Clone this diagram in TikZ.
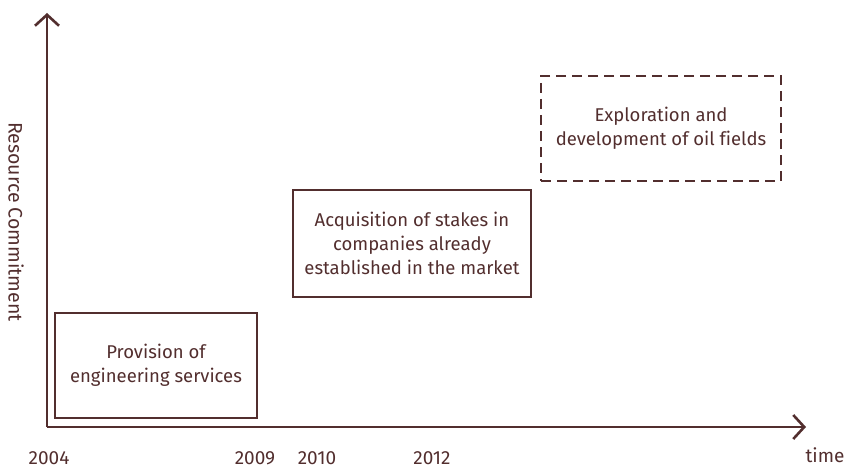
\documentclass[tikz,border=0pt]{standalone}
\usepackage{fontspec}
\setmainfont[Ligatures=NoCommon]{Fira Sans}
\usepackage{xcolor}
\usepackage{tikz}
\usetikzlibrary{arrows.meta, positioning}
\definecolor{AxisBrown}{RGB}{82,46,46}
\tikzset{
  phase/.style={
    rectangle, draw=AxisBrown, line width=2.4pt,
    align=center, text=AxisBrown,
    font=\fontsize{18.5}{24}\selectfont
  },
  axisarr/.style={-{Straight Barb[length=11pt, width=24pt, line width=2.6pt]},
    draw=AxisBrown, line width=2.8pt},
  yearlbl/.style={anchor=base, inner sep=0pt, text=AxisBrown, font=\fontsize{19}{22}\selectfont}
}
\begin{document}
\begin{tikzpicture}[x=1pt, y=-1pt]
  \useasboundingbox (0,0) rectangle (853,468);

  % Axes
  \coordinate (orig) at (47,427);
  \coordinate (ytip) at (47,13);
  \coordinate (xtip) at (806,427);
  \draw[axisarr] (orig) -- (ytip);
  \draw[axisarr] (orig) -- (xtip);

  % Phases of commitment
  \node[phase, minimum width=202pt, minimum height=105pt]
    (serv) at (156,365.5) {Provision of\\engineering services};
  \node[phase, minimum width=238pt, minimum height=107pt]
    (stake) at (412,243.5) {Acquisition of stakes in\\companies already\\established in the market};
  \node[phase, dashed, dash pattern=on 10pt off 6pt, minimum width=240pt, minimum height=105pt]
    (oil) at (661,128.5) {Exploration and\\development of oil fields};

  % Axis labels
  \node[yearlbl] (y04) at (49,464) {2004};
  \node[yearlbl] (y09) at (255,464) {2009};
  \node[yearlbl] (y10) at (317,464) {2010};
  \node[yearlbl] (y12) at (432,464) {2012};
  \node[yearlbl] (tlbl) at (825,462) {time};
  \node[text=AxisBrown, font=\fontsize{19.5}{22}\selectfont, rotate=-90]
    (rlbl) at (16,222) {Resource Commitment};
\end{tikzpicture}
\end{document}
